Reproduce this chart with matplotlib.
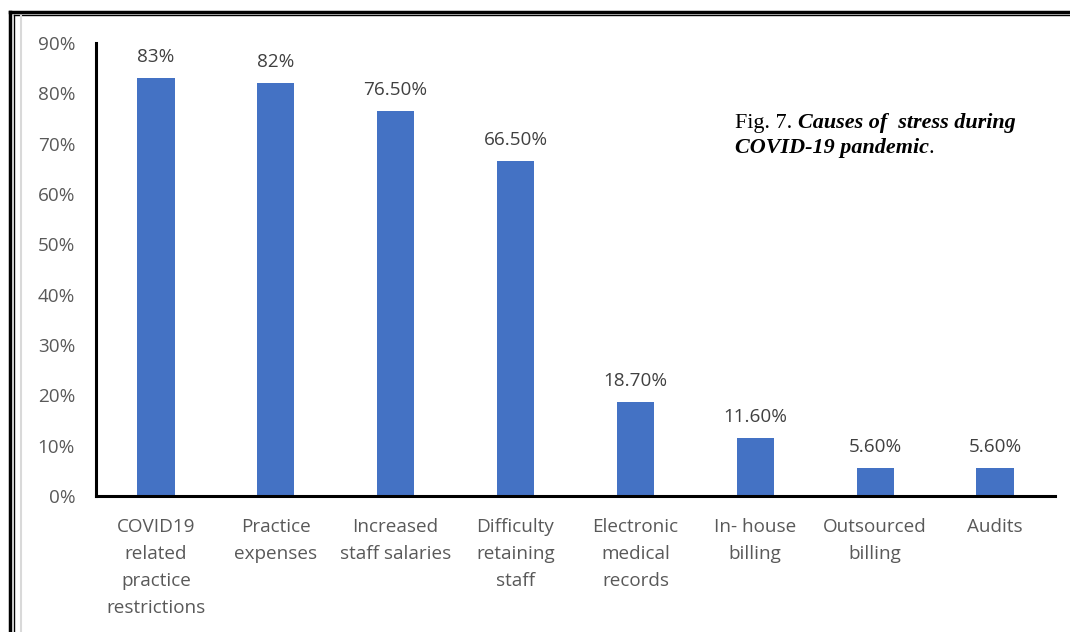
import numpy as np
import matplotlib.pyplot as plt
from matplotlib.lines import Line2D

# Datos del grafico
categorias = ["COVID19\nrelated\npractice\nrestrictions", "Practice\nexpenses",
              "Increased\nstaff salaries", "Difficulty\nretaining\nstaff",
              "Electronic\nmedical\nrecords", "In- house\nbilling",
              "Outsourced\nbilling", "Audits"]
valores = [83, 82, 76.5, 66.5, 18.7, 11.6, 5.6, 5.6]
etiquetas = ["83%", "82%", "76.50%", "66.50%", "18.70%", "11.60%", "5.60%", "5.60%"]
yticks = [0, 10, 20, 30, 40, 50, 60, 70, 80, 90]

plt.rcParams['font.family'] = ['Open Sans', 'DejaVu Sans']
gris = '#595959'
fs = 13.6

W, H = 1070, 632
fig = plt.figure(figsize=(W / 100, H / 100), dpi=100)
ax = fig.add_axes([96 / W, 1 - 496 / H, (1055 - 96) / W, (496 - 43) / H])

x = np.arange(len(categorias))
ax.bar(x, valores, width=0.31, color='#4472C4')

for xi, v, t in zip(x, valores, etiquetas):
    ax.annotate(t, (xi, v), xytext=(0, 8.5), textcoords='offset points',
                ha='center', va='bottom', fontsize=fs, color='#404040')

ax.set_xlim(-0.5, len(categorias) - 0.5)
ax.set_ylim(0, 90)
ax.set_yticks(yticks)
ax.set_yticklabels([f"{t}%" for t in yticks], fontsize=fs, color=gris)
ax.set_xticks(x)
ax.set_xticklabels(categorias, fontsize=fs, color=gris, linespacing=1.66, va='top')
ax.tick_params(axis='both', length=0)
ax.tick_params(axis='y', pad=15)
ax.tick_params(axis='x', pad=15.5)

for s in ['top', 'right']:
    ax.spines[s].set_visible(False)
for s in ['left', 'bottom']:
    ax.spines[s].set_linewidth(2.2)
    ax.spines[s].set_color('black')

# Leyenda de la figura: piezas colocadas una tras otra
renderer = fig.canvas.get_renderer()
def linea(piezas, x0, y0):
    xp = x0
    for texto, estilo, peso in piezas:
        t = fig.text(xp / W, 1 - y0 / H, texto, fontsize=15.9, family='Liberation Serif',
                     style=estilo, weight=peso, va='baseline', ha='left')
        bb = t.get_window_extent(renderer)
        xp = bb.x1

linea([("Fig. 7. ", 'normal', 'normal'), ("Causes of  stress during", 'italic', 'bold')], 735, 128)
linea([("COVID-19 pandemic", 'italic', 'bold'), (".", 'normal', 'normal')], 735, 153)

# Marco de la pagina
fig.add_artist(Line2D([9.5 / W, 9.5 / W], [0, 1 - 12 / H], color='black', lw=2.5))
fig.add_artist(Line2D([9.5 / W, 1], [1 - 12 / H, 1 - 12 / H], color='black', lw=2.5))
fig.add_artist(Line2D([13.5 / W, 13.5 / W], [0, 1 - 15 / H], color='black', lw=1))
fig.add_artist(Line2D([13.5 / W, 1], [1 - 15 / H, 1 - 15 / H], color='black', lw=1))
fig.add_artist(Line2D([20.5 / W, 20.5 / W], [0, 1 - 16 / H], color='#d9d9d9', lw=1.5))

plt.savefig("out.png", dpi=100)
